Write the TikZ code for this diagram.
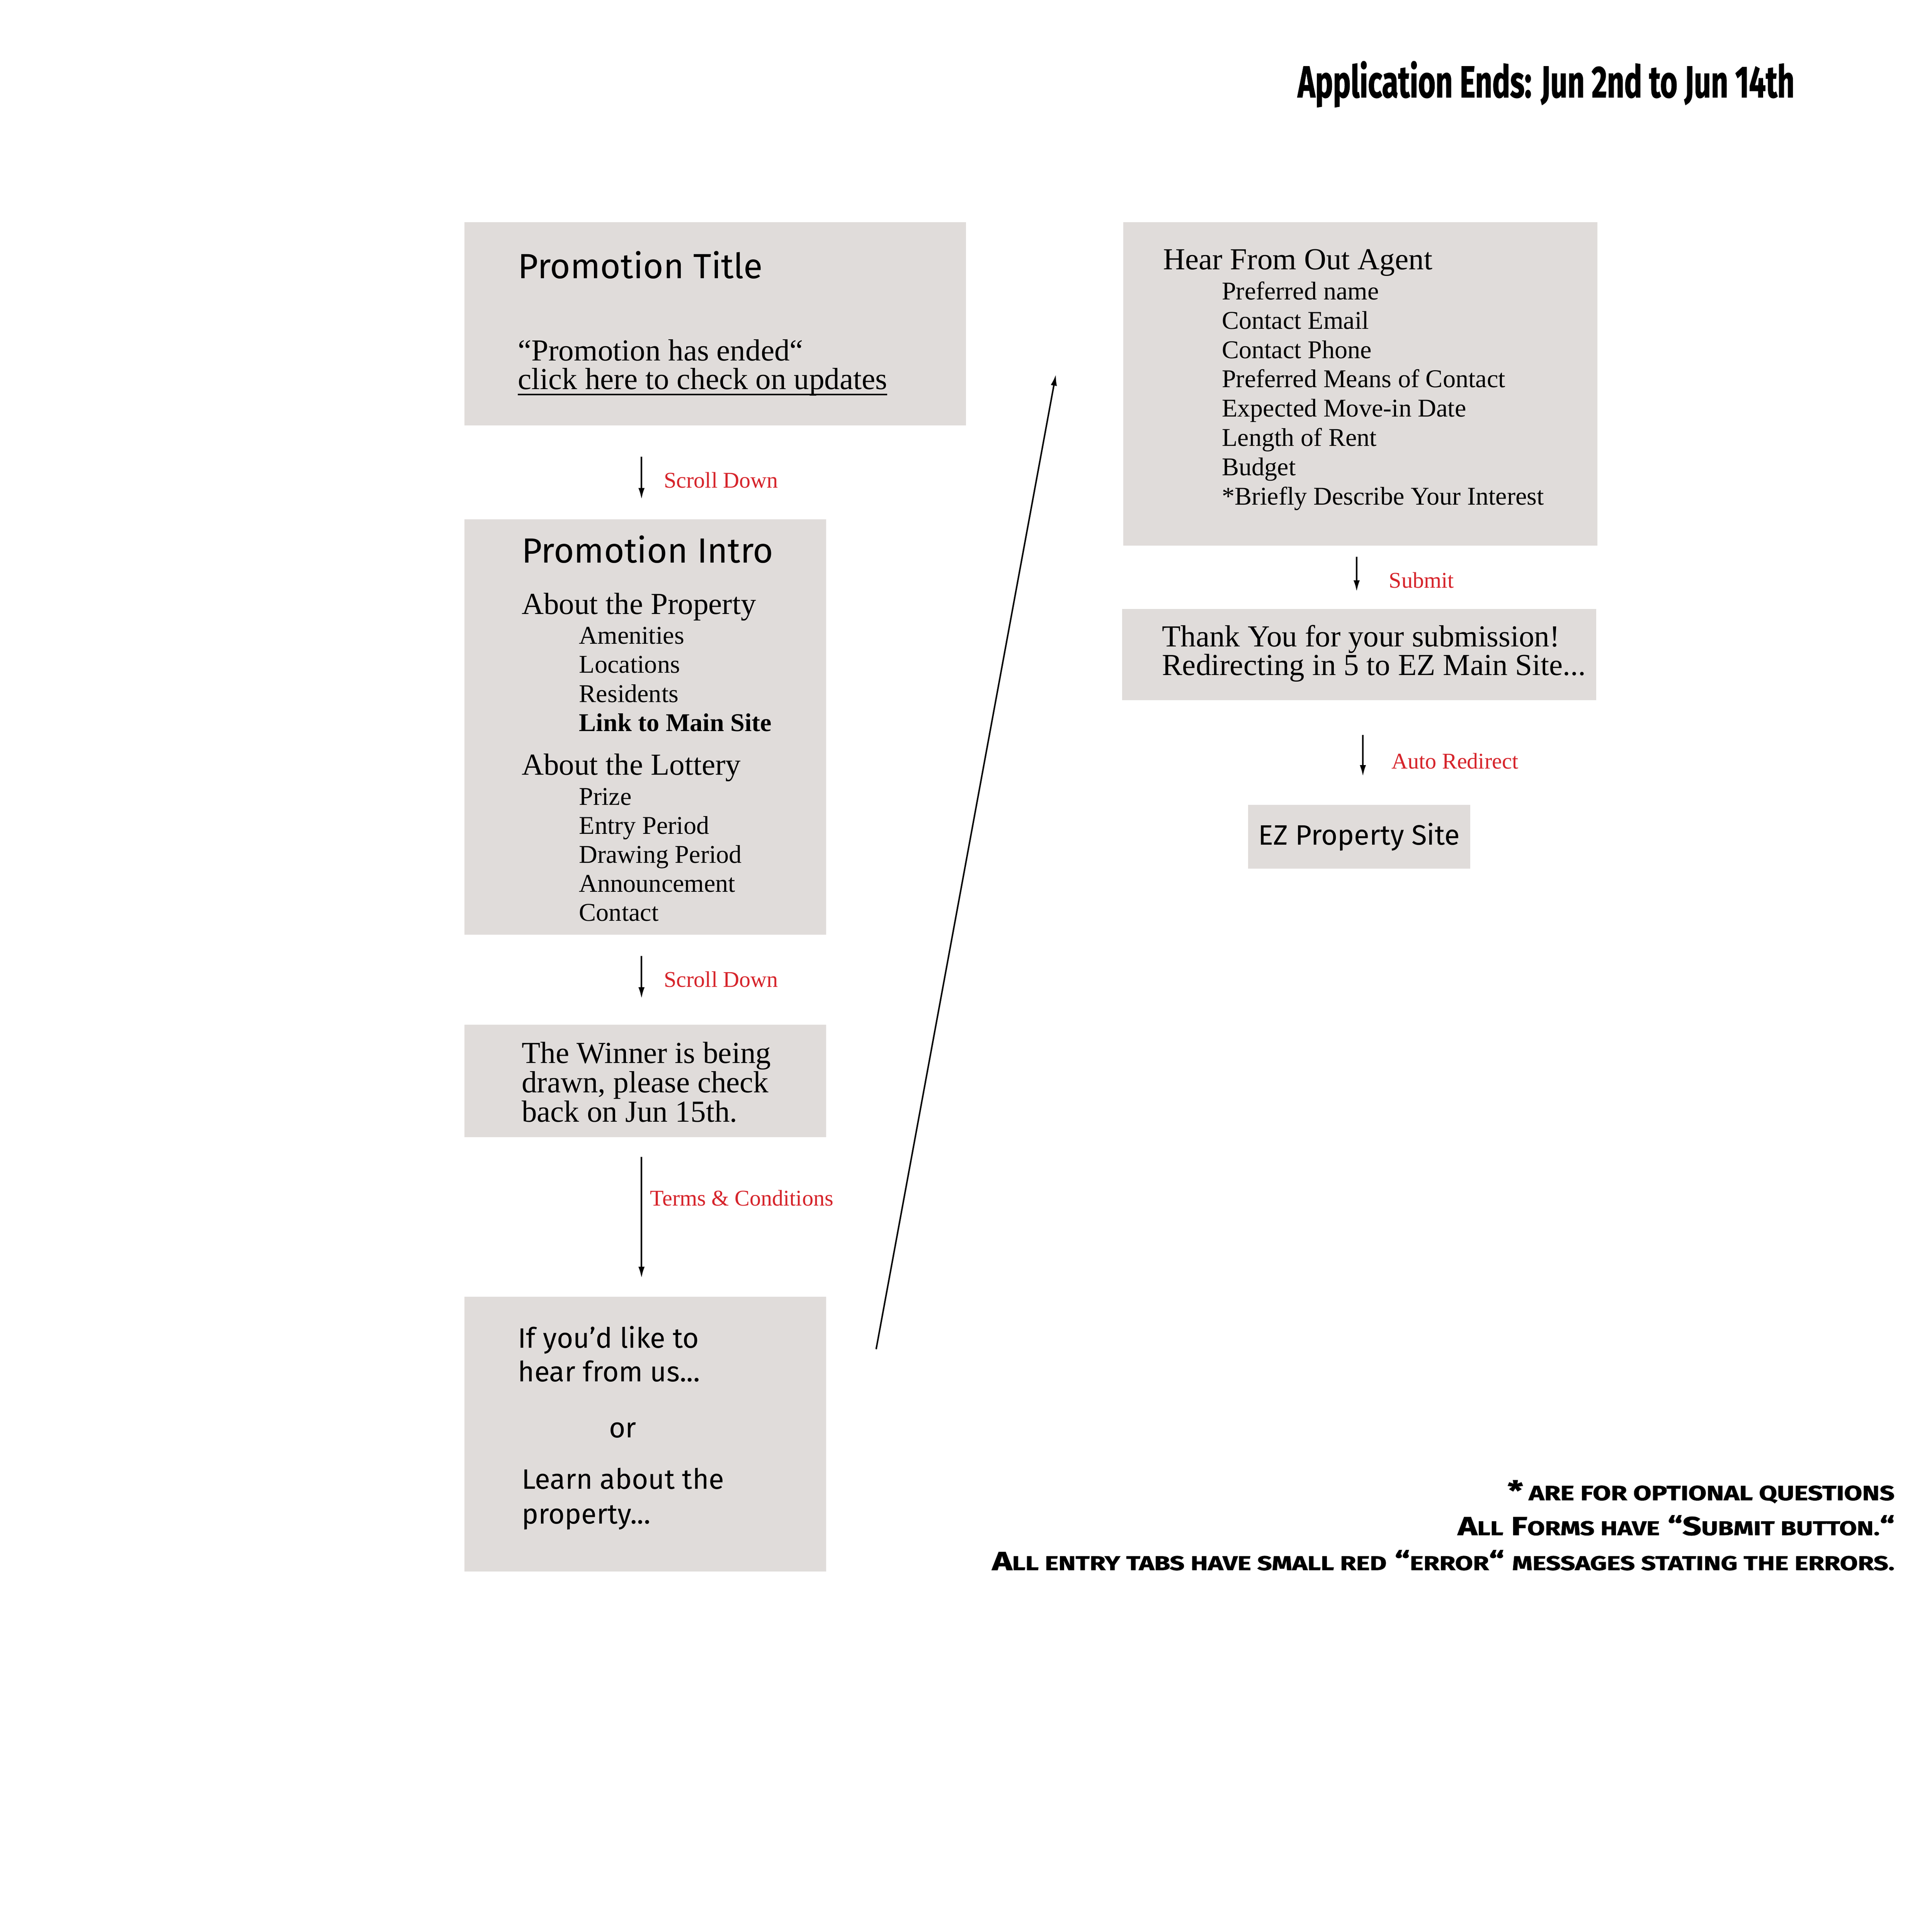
\documentclass[tikz,border=0pt]{standalone}
\usepackage{fontspec}
\usepackage{graphicx}
\usetikzlibrary{arrows.meta}
\setmainfont{Liberation Serif}
\newfontfamily\sansf{Fira Sans}
\newfontfamily\heavyf{Fira Sans}[BoldFeatures={FakeBold=1.3}]
\definecolor{boxgray}{RGB}{224,220,218}
\definecolor{lblred}{RGB}{214,35,42}
\newcommand\smc[1]{{\fontsize{13}{13}\selectfont #1}}
\tikzset{
  panel/.style={fill=boxgray, draw=none, anchor=north west, inner sep=0pt, outer sep=0pt},
  txt/.style={anchor=base west, inner sep=0pt, outer sep=0pt},
  sanstitle/.style={txt, font=\sansf\fontsize{28}{28}\selectfont},
  sanstext/.style={txt, font=\sansf\fontsize{22.5}{22.5}\selectfont},
  bigserif/.style={txt, font=\fontsize{24.5}{24.5}\selectfont},
  itemtxt/.style={txt, font=\fontsize{20.5}{20.5}\selectfont},
  redlbl/.style={txt, text=lblred, font=\fontsize{18}{18}\selectfont},
  flow/.style={-{Latex[length=9pt,width=5pt]}, line width=1.2pt},
  footer/.style={anchor=base east, inner sep=0pt, outer sep=0pt, font=\heavyf\bfseries\fontsize{17}{17}\selectfont},
}
\begin{document}
\begin{tikzpicture}[x=1pt,y=-1pt]
\path[fill=white, use as bounding box] (0,0) rectangle (1548,1548);

% header
\node[anchor=base east, inner sep=0pt] (hdr) at (1438,78)
  {\resizebox{398pt}{29pt}{\heavyf\bfseries Application Ends: Jun 2nd to Jun 14th}};

% ---------- left column ----------
\node[panel, minimum width=402pt, minimum height=163pt] (titlebox) at (372,178) {};
\node[sanstitle] (ttl) at (415,223) {Promotion Title};
\node[bigserif] (ended) at (415,289) {“Promotion has ended“};
\node[bigserif] (clk) at (415,312) {click here to check on updates};
\draw[line width=1.3pt] ([yshift=-4pt]clk.base west) -- ([yshift=-4pt]clk.base east);

\coordinate (a1s) at (514,366);
\coordinate (a1e) at (514,400);
\draw[flow] (a1s) -- (a1e);
\node[redlbl] (l1) at (532,391) {Scroll Down};

\node[panel, minimum width=290pt, minimum height=333pt] (introbox) at (372,416) {};
\node[sanstitle] (intro) at (418,451) {Promotion Intro};
\node[bigserif] (aprop) at (418,492) {About the Property};
\foreach \t [count=\i] in {Amenities, Locations, Residents}
  \node[itemtxt] (pi\i) at (464,{516+23.3*(\i-1)}) {\t};
\node[itemtxt, font=\bfseries\fontsize{20.5}{20.5}\selectfont] (link) at (464,586) {Link to Main Site};
\node[bigserif] (alot) at (418,621) {About the Lottery};
\foreach \t [count=\i] in {Prize, Entry Period, Drawing Period, Announcement, Contact}
  \node[itemtxt] (li\i) at (464,{645+23.25*(\i-1)}) {\t};

\coordinate (a2s) at (514,766);
\coordinate (a2e) at (514,800);
\draw[flow] (a2s) -- (a2e);
\node[redlbl] (l2) at (532,791) {Scroll Down};

\node[panel, minimum width=290pt, minimum height=90pt] (winbox) at (372,821) {};
\foreach \t [count=\i] in {The Winner is being, {drawn, please check}, back on Jun 15th.}
  \node[bigserif] (w\i) at (418,{852+23.5*(\i-1)}) {\t};

\coordinate (a3s) at (514,927);
\coordinate (a3e) at (514,1024);
\draw[flow] (a3s) -- (a3e);
\node[redlbl] (l3) at (521,966) {Terms \& Conditions};

\node[panel, minimum width=290pt, minimum height=220pt] (hearbox) at (372,1039) {};
\node[sanstext] (h1) at (415,1080) {If you’d like to};
\node[sanstext] (h2) at (415,1107) {hear from us...};
\node[sanstext] (h3) at (488,1152) {or};
\node[sanstext] (h4) at (418,1193) {Learn about the};
\node[sanstext] (h5) at (418,1221) {property...};

% long connector
\coordinate (lgs) at (702,1081);
\coordinate (lge) at (846,300);
\draw[flow] (lgs) -- (lge);

% ---------- right column ----------
\node[panel, minimum width=380pt, minimum height=259pt] (agentbox) at (900,178) {};
\node[bigserif] (agt) at (932,216) {Hear From Out Agent};
\foreach \t [count=\i] in {Preferred name, Contact Email, Contact Phone, Preferred Means of Contact, Expected Move-in Date, Length of Rent, Budget, *Briefly Describe Your Interest}
  \node[itemtxt] (ag\i) at (979,{240+23.5*(\i-1)}) {\t};

\coordinate (a4s) at (1087,446);
\coordinate (a4e) at (1087,474);
\draw[flow] (a4s) -- (a4e);
\node[redlbl] (l4) at (1113,471) {Submit};

\node[panel, minimum width=380pt, minimum height=73pt] (thankbox) at (899,488) {};
\node[bigserif] (t1) at (931,518) {Thank You for your submission!};
\node[bigserif] (t2) at (931,541) {Redirecting in 5 to EZ Main Site...};

\coordinate (a5s) at (1092,589);
\coordinate (a5e) at (1092,622);
\draw[flow] (a5s) -- (a5e);
\node[redlbl] (l5) at (1115,616) {Auto Redirect};

\node[panel, minimum width=178pt, minimum height=51pt] (ezbox) at (1000,645) {};
\node[sanstext, anchor=base] (ez) at (1089,677) {EZ Property Site};

% footer notes
\node[footer] (f1) at (1518,1202) {\resizebox{310pt}{16pt}{*\,\smc{ARE FOR OPTIONAL QUESTIONS}}};
\node[footer] (f2) at (1518,1230) {\resizebox{350pt}{16pt}{A\smc{LL} F\smc{ORMS HAVE} “S\smc{UBMIT BUTTON.}“}};
\node[footer] (f3) at (1518,1258) {\resizebox{723pt}{16pt}{A\smc{LL ENTRY TABS HAVE SMALL RED} “\smc{ERROR}“ \smc{MESSAGES STATING THE ERRORS.}}};
\end{tikzpicture}
\end{document}
